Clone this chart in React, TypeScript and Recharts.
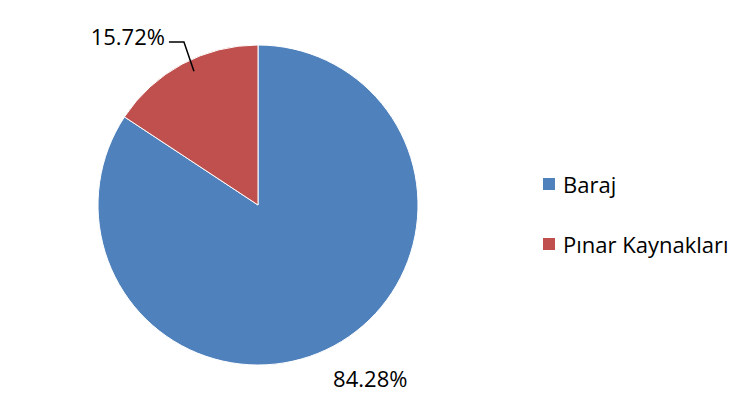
import { PieChart, Pie, Cell, Legend } from "recharts";

const categories = ["Baraj", "Pınar Kaynakları"];
const shares = [84.28, 15.72];
const colors = ["#4F81BD", "#C0504D"];

const data = categories.map((name, i) => ({ name, value: shares[i] }));

const FONT = "'Open Sans', sans-serif";
const RAD = Math.PI / 180;

function renderLabel(props: any) {
  const { cx, cy, midAngle, outerRadius, index, value } = props;
  const cos = Math.cos(-midAngle * RAD);
  const sin = Math.sin(-midAngle * RAD);
  const text = `${value.toFixed(2)}%`;
  if (index === 0) {
    const x = cx + (outerRadius + 22) * cos + 26;
    const y = cy + (outerRadius + 22) * sin + 13;
    return (
      <text x={x} y={y} textAnchor="middle" dominantBaseline="central" fill="#000" fontSize={22} fontFamily={FONT}>
        {text}
      </text>
    );
  }
  // leader line: short diagonal out of the slice, then a horizontal run to the label
  const sx = cx + (outerRadius - 8) * cos + 8;
  const sy = cy + (outerRadius - 8) * sin;
  const ex = sx - 10;
  const ey = cy - outerRadius - 3;
  const tx = ex - 15;
  return (
    <g>
      <polyline points={`${sx},${sy} ${ex},${ey} ${tx},${ey}`} fill="none" stroke="#000" strokeWidth={1.5} />
      <text x={tx - 4} y={ey - 6} textAnchor="end" dominantBaseline="central" fill="#000" fontSize={22} fontFamily={FONT}>
        {text}
      </text>
    </g>
  );
}

function renderLegend() {
  return (
    <div style={{ fontFamily: FONT, fontSize: 22, color: "#000" }}>
      {categories.map((name, i) => (
        <div key={name} style={{ display: "flex", alignItems: "center", height: 30, marginBottom: i === 0 ? 30 : 0 }}>
          <span style={{ width: 12, height: 12, background: colors[i], display: "inline-block", marginRight: 8 }} />
          <span>{name}</span>
        </div>
      ))}
    </div>
  );
}

export default function App() {
  return (
    <PieChart width={741} height={416}>
      <Pie
        data={data}
        dataKey="value"
        nameKey="name"
        cx={245}
        cy={192}
        outerRadius={160}
        startAngle={90}
        endAngle={-270}
        stroke="#fff"
        strokeWidth={1}
        label={renderLabel}
        labelLine={false}
        isAnimationActive={false}
      >
        {data.map((d, i) => (
          <Cell key={d.name} fill={colors[i]} />
        ))}
      </Pie>
      <Legend
        content={renderLegend}
        wrapperStyle={{ position: "absolute", left: 535, top: 161, width: 200 }}
      />
    </PieChart>
  );
}
